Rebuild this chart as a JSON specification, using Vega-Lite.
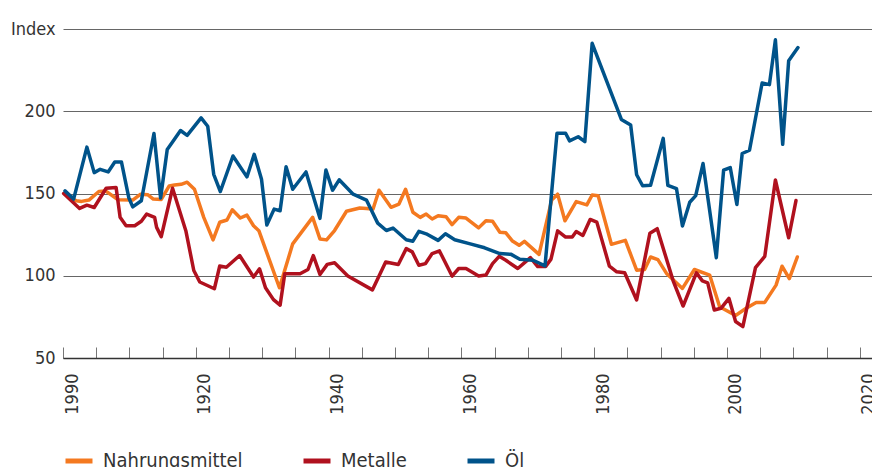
{
  "$schema": "https://vega.github.io/schema/vega-lite/v6.json",
  "width": 809,
  "height": 329,
  "autosize": {"type": "none"},
  "padding": {"left": 63, "top": 29, "right": 0, "bottom": 109},
  "background": "white",
  "config": {"view": {"stroke": null}, "font": "DejaVu Sans Condensed"},
  "data": {"values": [
    {"Reihe":"Nahrungsmittel","Jahr":1900.3,"Wert":149.6},
    {"Reihe":"Nahrungsmittel","Jahr":1902.0,"Wert":145.6},
    {"Reihe":"Nahrungsmittel","Jahr":1902.8,"Wert":145.2},
    {"Reihe":"Nahrungsmittel","Jahr":1903.9,"Wert":146.0},
    {"Reihe":"Nahrungsmittel","Jahr":1905.4,"Wert":151.2},
    {"Reihe":"Nahrungsmittel","Jahr":1906.4,"Wert":151.6},
    {"Reihe":"Nahrungsmittel","Jahr":1908.3,"Wert":146.2},
    {"Reihe":"Nahrungsmittel","Jahr":1910.5,"Wert":146.0},
    {"Reihe":"Nahrungsmittel","Jahr":1911.7,"Wert":149.6},
    {"Reihe":"Nahrungsmittel","Jahr":1912.8,"Wert":149.2},
    {"Reihe":"Nahrungsmittel","Jahr":1913.6,"Wert":146.6},
    {"Reihe":"Nahrungsmittel","Jahr":1914.8,"Wert":146.4},
    {"Reihe":"Nahrungsmittel","Jahr":1916.0,"Wert":154.6},
    {"Reihe":"Nahrungsmittel","Jahr":1916.8,"Wert":155.2},
    {"Reihe":"Nahrungsmittel","Jahr":1917.8,"Wert":155.6},
    {"Reihe":"Nahrungsmittel","Jahr":1918.7,"Wert":156.9},
    {"Reihe":"Nahrungsmittel","Jahr":1919.8,"Wert":152.6},
    {"Reihe":"Nahrungsmittel","Jahr":1921.2,"Wert":135.5},
    {"Reihe":"Nahrungsmittel","Jahr":1922.6,"Wert":121.8},
    {"Reihe":"Nahrungsmittel","Jahr":1923.6,"Wert":132.5},
    {"Reihe":"Nahrungsmittel","Jahr":1924.7,"Wert":133.9},
    {"Reihe":"Nahrungsmittel","Jahr":1925.5,"Wert":140.1},
    {"Reihe":"Nahrungsmittel","Jahr":1926.7,"Wert":135.1},
    {"Reihe":"Nahrungsmittel","Jahr":1927.7,"Wert":136.9},
    {"Reihe":"Nahrungsmittel","Jahr":1928.7,"Wert":130.4},
    {"Reihe":"Nahrungsmittel","Jahr":1929.5,"Wert":127.4},
    {"Reihe":"Nahrungsmittel","Jahr":1932.6,"Wert":92.7},
    {"Reihe":"Nahrungsmittel","Jahr":1934.6,"Wert":119.4},
    {"Reihe":"Nahrungsmittel","Jahr":1937.6,"Wert":135.5},
    {"Reihe":"Nahrungsmittel","Jahr":1938.7,"Wert":122.4},
    {"Reihe":"Nahrungsmittel","Jahr":1939.7,"Wert":121.8},
    {"Reihe":"Nahrungsmittel","Jahr":1940.9,"Wert":127.5},
    {"Reihe":"Nahrungsmittel","Jahr":1942.7,"Wert":139.2},
    {"Reihe":"Nahrungsmittel","Jahr":1944.7,"Wert":141.2},
    {"Reihe":"Nahrungsmittel","Jahr":1946.7,"Wert":140.6},
    {"Reihe":"Nahrungsmittel","Jahr":1947.6,"Wert":152.0},
    {"Reihe":"Nahrungsmittel","Jahr":1949.4,"Wert":141.6},
    {"Reihe":"Nahrungsmittel","Jahr":1950.6,"Wert":143.6},
    {"Reihe":"Nahrungsmittel","Jahr":1951.6,"Wert":152.6},
    {"Reihe":"Nahrungsmittel","Jahr":1952.7,"Wert":138.6},
    {"Reihe":"Nahrungsmittel","Jahr":1953.8,"Wert":135.5},
    {"Reihe":"Nahrungsmittel","Jahr":1954.7,"Wert":137.5},
    {"Reihe":"Nahrungsmittel","Jahr":1955.6,"Wert":134.5},
    {"Reihe":"Nahrungsmittel","Jahr":1956.5,"Wert":136.5},
    {"Reihe":"Nahrungsmittel","Jahr":1957.7,"Wert":135.9},
    {"Reihe":"Nahrungsmittel","Jahr":1958.6,"Wert":131.1},
    {"Reihe":"Nahrungsmittel","Jahr":1959.6,"Wert":135.5},
    {"Reihe":"Nahrungsmittel","Jahr":1960.7,"Wert":135.1},
    {"Reihe":"Nahrungsmittel","Jahr":1962.6,"Wert":129.1},
    {"Reihe":"Nahrungsmittel","Jahr":1963.7,"Wert":133.5},
    {"Reihe":"Nahrungsmittel","Jahr":1964.7,"Wert":133.1},
    {"Reihe":"Nahrungsmittel","Jahr":1965.8,"Wert":126.5},
    {"Reihe":"Nahrungsmittel","Jahr":1966.7,"Wert":126.1},
    {"Reihe":"Nahrungsmittel","Jahr":1967.7,"Wert":121.1},
    {"Reihe":"Nahrungsmittel","Jahr":1968.7,"Wert":118.5},
    {"Reihe":"Nahrungsmittel","Jahr":1969.5,"Wert":120.9},
    {"Reihe":"Nahrungsmittel","Jahr":1971.7,"Wert":113.0},
    {"Reihe":"Nahrungsmittel","Jahr":1973.6,"Wert":146.0},
    {"Reihe":"Nahrungsmittel","Jahr":1974.5,"Wert":149.6},
    {"Reihe":"Nahrungsmittel","Jahr":1975.6,"Wert":133.4},
    {"Reihe":"Nahrungsmittel","Jahr":1977.3,"Wert":145.1},
    {"Reihe":"Nahrungsmittel","Jahr":1978.9,"Wert":143.1},
    {"Reihe":"Nahrungsmittel","Jahr":1979.7,"Wert":149.1},
    {"Reihe":"Nahrungsmittel","Jahr":1980.6,"Wert":148.7},
    {"Reihe":"Nahrungsmittel","Jahr":1982.6,"Wert":119.1},
    {"Reihe":"Nahrungsmittel","Jahr":1984.7,"Wert":121.5},
    {"Reihe":"Nahrungsmittel","Jahr":1986.4,"Wert":103.4},
    {"Reihe":"Nahrungsmittel","Jahr":1987.6,"Wert":103.8},
    {"Reihe":"Nahrungsmittel","Jahr":1988.5,"Wert":111.4},
    {"Reihe":"Nahrungsmittel","Jahr":1989.6,"Wert":109.8},
    {"Reihe":"Nahrungsmittel","Jahr":1990.9,"Wert":101.4},
    {"Reihe":"Nahrungsmittel","Jahr":1993.3,"Wert":92.3},
    {"Reihe":"Nahrungsmittel","Jahr":1995.1,"Wert":103.8},
    {"Reihe":"Nahrungsmittel","Jahr":1997.4,"Wert":100.4},
    {"Reihe":"Nahrungsmittel","Jahr":1998.9,"Wert":81.2},
    {"Reihe":"Nahrungsmittel","Jahr":2001.3,"Wert":75.8},
    {"Reihe":"Nahrungsmittel","Jahr":2002.9,"Wert":80.2},
    {"Reihe":"Nahrungsmittel","Jahr":2004.4,"Wert":83.8},
    {"Reihe":"Nahrungsmittel","Jahr":2005.7,"Wert":83.8},
    {"Reihe":"Nahrungsmittel","Jahr":2007.4,"Wert":94.3},
    {"Reihe":"Nahrungsmittel","Jahr":2008.3,"Wert":105.8},
    {"Reihe":"Nahrungsmittel","Jahr":2009.4,"Wert":98.3},
    {"Reihe":"Nahrungsmittel","Jahr":2010.6,"Wert":111.4},

    {"Reihe":"Metalle","Jahr":1900.1,"Wert":150.0},
    {"Reihe":"Metalle","Jahr":1902.5,"Wert":140.9},
    {"Reihe":"Metalle","Jahr":1903.6,"Wert":142.9},
    {"Reihe":"Metalle","Jahr":1904.7,"Wert":141.5},
    {"Reihe":"Metalle","Jahr":1906.5,"Wert":153.2},
    {"Reihe":"Metalle","Jahr":1908.0,"Wert":153.6},
    {"Reihe":"Metalle","Jahr":1908.6,"Wert":135.5},
    {"Reihe":"Metalle","Jahr":1909.5,"Wert":130.4},
    {"Reihe":"Metalle","Jahr":1910.8,"Wert":130.4},
    {"Reihe":"Metalle","Jahr":1911.8,"Wert":133.1},
    {"Reihe":"Metalle","Jahr":1912.6,"Wert":137.5},
    {"Reihe":"Metalle","Jahr":1913.8,"Wert":135.5},
    {"Reihe":"Metalle","Jahr":1914.1,"Wert":129.4},
    {"Reihe":"Metalle","Jahr":1914.8,"Wert":123.8},
    {"Reihe":"Metalle","Jahr":1916.5,"Wert":153.2},
    {"Reihe":"Metalle","Jahr":1918.5,"Wert":127.4},
    {"Reihe":"Metalle","Jahr":1919.7,"Wert":103.2},
    {"Reihe":"Metalle","Jahr":1920.6,"Wert":96.2},
    {"Reihe":"Metalle","Jahr":1922.8,"Wert":92.1},
    {"Reihe":"Metalle","Jahr":1923.6,"Wert":105.9},
    {"Reihe":"Metalle","Jahr":1924.6,"Wert":105.2},
    {"Reihe":"Metalle","Jahr":1926.6,"Wert":112.3},
    {"Reihe":"Metalle","Jahr":1928.7,"Wert":99.2},
    {"Reihe":"Metalle","Jahr":1929.6,"Wert":104.2},
    {"Reihe":"Metalle","Jahr":1930.5,"Wert":92.7},
    {"Reihe":"Metalle","Jahr":1931.7,"Wert":85.5},
    {"Reihe":"Metalle","Jahr":1932.7,"Wert":82.1},
    {"Reihe":"Metalle","Jahr":1933.4,"Wert":101.2},
    {"Reihe":"Metalle","Jahr":1934.5,"Wert":101.2},
    {"Reihe":"Metalle","Jahr":1935.7,"Wert":101.2},
    {"Reihe":"Metalle","Jahr":1936.9,"Wert":103.8},
    {"Reihe":"Metalle","Jahr":1937.7,"Wert":112.3},
    {"Reihe":"Metalle","Jahr":1938.7,"Wert":100.8},
    {"Reihe":"Metalle","Jahr":1939.8,"Wert":106.9},
    {"Reihe":"Metalle","Jahr":1940.9,"Wert":107.9},
    {"Reihe":"Metalle","Jahr":1942.9,"Wert":99.8},
    {"Reihe":"Metalle","Jahr":1946.6,"Wert":91.4},
    {"Reihe":"Metalle","Jahr":1948.6,"Wert":108.4},
    {"Reihe":"Metalle","Jahr":1950.5,"Wert":106.8},
    {"Reihe":"Metalle","Jahr":1951.7,"Wert":116.5},
    {"Reihe":"Metalle","Jahr":1952.6,"Wert":114.5},
    {"Reihe":"Metalle","Jahr":1953.6,"Wert":106.4},
    {"Reihe":"Metalle","Jahr":1954.6,"Wert":107.4},
    {"Reihe":"Metalle","Jahr":1955.6,"Wert":113.5},
    {"Reihe":"Metalle","Jahr":1956.7,"Wert":115.1},
    {"Reihe":"Metalle","Jahr":1958.6,"Wert":99.8},
    {"Reihe":"Metalle","Jahr":1959.6,"Wert":104.4},
    {"Reihe":"Metalle","Jahr":1960.7,"Wert":104.4},
    {"Reihe":"Metalle","Jahr":1962.6,"Wert":99.8},
    {"Reihe":"Metalle","Jahr":1963.7,"Wert":100.4},
    {"Reihe":"Metalle","Jahr":1964.7,"Wert":107.4},
    {"Reihe":"Metalle","Jahr":1965.7,"Wert":111.8},
    {"Reihe":"Metalle","Jahr":1966.7,"Wert":109.4},
    {"Reihe":"Metalle","Jahr":1968.5,"Wert":104.4},
    {"Reihe":"Metalle","Jahr":1970.4,"Wert":111.0},
    {"Reihe":"Metalle","Jahr":1971.5,"Wert":105.6},
    {"Reihe":"Metalle","Jahr":1972.7,"Wert":105.6},
    {"Reihe":"Metalle","Jahr":1973.5,"Wert":110.1},
    {"Reihe":"Metalle","Jahr":1974.5,"Wert":127.3},
    {"Reihe":"Metalle","Jahr":1975.7,"Wert":123.5},
    {"Reihe":"Metalle","Jahr":1976.7,"Wert":123.5},
    {"Reihe":"Metalle","Jahr":1977.3,"Wert":126.9},
    {"Reihe":"Metalle","Jahr":1978.3,"Wert":124.5},
    {"Reihe":"Metalle","Jahr":1979.4,"Wert":134.2},
    {"Reihe":"Metalle","Jahr":1980.4,"Wert":132.6},
    {"Reihe":"Metalle","Jahr":1982.3,"Wert":105.8},
    {"Reihe":"Metalle","Jahr":1983.4,"Wert":102.4},
    {"Reihe":"Metalle","Jahr":1984.6,"Wert":101.8},
    {"Reihe":"Metalle","Jahr":1986.4,"Wert":85.3},
    {"Reihe":"Metalle","Jahr":1988.4,"Wert":125.9},
    {"Reihe":"Metalle","Jahr":1989.5,"Wert":128.6},
    {"Reihe":"Metalle","Jahr":1991.9,"Wert":96.9},
    {"Reihe":"Metalle","Jahr":1993.4,"Wert":81.6},
    {"Reihe":"Metalle","Jahr":1995.4,"Wert":101.8},
    {"Reihe":"Metalle","Jahr":1996.3,"Wert":96.9},
    {"Reihe":"Metalle","Jahr":1997.1,"Wert":95.7},
    {"Reihe":"Metalle","Jahr":1998.1,"Wert":79.2},
    {"Reihe":"Metalle","Jahr":1999.1,"Wert":80.2},
    {"Reihe":"Metalle","Jahr":2000.3,"Wert":86.3},
    {"Reihe":"Metalle","Jahr":2001.3,"Wert":72.2},
    {"Reihe":"Metalle","Jahr":2002.4,"Wert":69.1},
    {"Reihe":"Metalle","Jahr":2004.3,"Wert":105.0},
    {"Reihe":"Metalle","Jahr":2005.7,"Wert":111.8},
    {"Reihe":"Metalle","Jahr":2007.3,"Wert":158.2},
    {"Reihe":"Metalle","Jahr":2009.3,"Wert":123.1},
    {"Reihe":"Metalle","Jahr":2010.4,"Wert":145.7},

    {"Reihe":"Öl","Jahr":1900.3,"Wert":151.6},
    {"Reihe":"Öl","Jahr":1901.6,"Wert":146.6},
    {"Reihe":"Öl","Jahr":1903.6,"Wert":178.2},
    {"Reihe":"Öl","Jahr":1904.7,"Wert":162.7},
    {"Reihe":"Öl","Jahr":1905.6,"Wert":164.7},
    {"Reihe":"Öl","Jahr":1906.8,"Wert":163.1},
    {"Reihe":"Öl","Jahr":1907.8,"Wert":169.2},
    {"Reihe":"Öl","Jahr":1908.8,"Wert":169.2},
    {"Reihe":"Öl","Jahr":1909.9,"Wert":147.6},
    {"Reihe":"Öl","Jahr":1910.5,"Wert":141.9},
    {"Reihe":"Öl","Jahr":1911.8,"Wert":145.6},
    {"Reihe":"Öl","Jahr":1913.7,"Wert":186.5},
    {"Reihe":"Öl","Jahr":1914.7,"Wert":147.2},
    {"Reihe":"Öl","Jahr":1915.7,"Wert":176.8},
    {"Reihe":"Öl","Jahr":1916.6,"Wert":181.9},
    {"Reihe":"Öl","Jahr":1917.7,"Wert":188.3},
    {"Reihe":"Öl","Jahr":1918.7,"Wert":185.3},
    {"Reihe":"Öl","Jahr":1920.8,"Wert":196.0},
    {"Reihe":"Öl","Jahr":1921.8,"Wert":190.9},
    {"Reihe":"Öl","Jahr":1922.7,"Wert":161.7},
    {"Reihe":"Öl","Jahr":1923.7,"Wert":151.2},
    {"Reihe":"Öl","Jahr":1925.6,"Wert":172.8},
    {"Reihe":"Öl","Jahr":1927.7,"Wert":160.1},
    {"Reihe":"Öl","Jahr":1928.8,"Wert":173.8},
    {"Reihe":"Öl","Jahr":1929.9,"Wert":158.7},
    {"Reihe":"Öl","Jahr":1930.7,"Wert":130.8},
    {"Reihe":"Öl","Jahr":1931.8,"Wert":140.5},
    {"Reihe":"Öl","Jahr":1932.7,"Wert":139.5},
    {"Reihe":"Öl","Jahr":1933.6,"Wert":166.3},
    {"Reihe":"Öl","Jahr":1934.6,"Wert":152.6},
    {"Reihe":"Öl","Jahr":1936.6,"Wert":163.1},
    {"Reihe":"Öl","Jahr":1938.7,"Wert":134.9},
    {"Reihe":"Öl","Jahr":1939.6,"Wert":164.3},
    {"Reihe":"Öl","Jahr":1940.6,"Wert":152.0},
    {"Reihe":"Öl","Jahr":1941.6,"Wert":158.3},
    {"Reihe":"Öl","Jahr":1943.7,"Wert":149.6},
    {"Reihe":"Öl","Jahr":1945.7,"Wert":146.0},
    {"Reihe":"Öl","Jahr":1947.4,"Wert":132.0},
    {"Reihe":"Öl","Jahr":1948.7,"Wert":127.5},
    {"Reihe":"Öl","Jahr":1949.7,"Wert":129.0},
    {"Reihe":"Öl","Jahr":1951.7,"Wert":121.9},
    {"Reihe":"Öl","Jahr":1952.7,"Wert":121.0},
    {"Reihe":"Öl","Jahr":1953.6,"Wert":127.0},
    {"Reihe":"Öl","Jahr":1954.7,"Wert":125.5},
    {"Reihe":"Öl","Jahr":1956.5,"Wert":121.5},
    {"Reihe":"Öl","Jahr":1957.6,"Wert":125.5},
    {"Reihe":"Öl","Jahr":1959.0,"Wert":121.9},
    {"Reihe":"Öl","Jahr":1961.2,"Wert":119.5},
    {"Reihe":"Öl","Jahr":1963.5,"Wert":117.0},
    {"Reihe":"Öl","Jahr":1965.8,"Wert":113.5},
    {"Reihe":"Öl","Jahr":1967.5,"Wert":113.0},
    {"Reihe":"Öl","Jahr":1968.8,"Wert":110.0},
    {"Reihe":"Öl","Jahr":1970.8,"Wert":109.4},
    {"Reihe":"Öl","Jahr":1972.6,"Wert":106.0},
    {"Reihe":"Öl","Jahr":1974.4,"Wert":186.6},
    {"Reihe":"Öl","Jahr":1975.7,"Wert":186.6},
    {"Reihe":"Öl","Jahr":1976.3,"Wert":182.0},
    {"Reihe":"Öl","Jahr":1977.6,"Wert":184.5},
    {"Reihe":"Öl","Jahr":1978.6,"Wert":181.5},
    {"Reihe":"Öl","Jahr":1979.7,"Wert":241.3},
    {"Reihe":"Öl","Jahr":1984.1,"Wert":195.0},
    {"Reihe":"Öl","Jahr":1985.5,"Wert":191.6},
    {"Reihe":"Öl","Jahr":1986.4,"Wert":161.4},
    {"Reihe":"Öl","Jahr":1987.3,"Wert":154.7},
    {"Reihe":"Öl","Jahr":1988.5,"Wert":155.0},
    {"Reihe":"Öl","Jahr":1990.4,"Wert":183.5},
    {"Reihe":"Öl","Jahr":1991.1,"Wert":155.0},
    {"Reihe":"Öl","Jahr":1992.4,"Wert":153.0},
    {"Reihe":"Öl","Jahr":1993.3,"Wert":130.2},
    {"Reihe":"Öl","Jahr":1994.4,"Wert":144.7},
    {"Reihe":"Öl","Jahr":1995.3,"Wert":148.7},
    {"Reihe":"Öl","Jahr":1996.4,"Wert":168.2},
    {"Reihe":"Öl","Jahr":1998.4,"Wert":111.0},
    {"Reihe":"Öl","Jahr":1999.5,"Wert":164.2},
    {"Reihe":"Öl","Jahr":2000.5,"Wert":165.8},
    {"Reihe":"Öl","Jahr":2001.5,"Wert":143.3},
    {"Reihe":"Öl","Jahr":2002.3,"Wert":174.3},
    {"Reihe":"Öl","Jahr":2003.4,"Wert":176.3},
    {"Reihe":"Öl","Jahr":2005.3,"Wert":217.2},
    {"Reihe":"Öl","Jahr":2006.4,"Wert":216.2},
    {"Reihe":"Öl","Jahr":2007.3,"Wert":243.4},
    {"Reihe":"Öl","Jahr":2008.4,"Wert":179.9},
    {"Reihe":"Öl","Jahr":2009.3,"Wert":230.7},
    {"Reihe":"Öl","Jahr":2010.7,"Wert":238.7}
  ]},
  "mark": {"type": "line", "strokeWidth": 3.5, "strokeJoin": "round", "strokeCap": "round"},
  "encoding": {
    "x": {
      "field": "Jahr", "type": "quantitative",
      "scale": {"domain": [1900, 2021.85], "nice": false, "zero": false},
      "axis": {
        "title": null,
        "values": [1900,1905,1910,1915,1920,1925,1930,1935,1940,1945,1950,1955,1960,1965,1970,1975,1980,1985,1990,1995,2000,2005,2010,2015,2020],
        "format": "d",
        "labelExpr": "datum.value % 20 == 0 ? (datum.value == 1900 ? '1990' : datum.label) : ''",
        "labelAngle": -90,
        "labelOffset": 9,
        "labelFlush": false,
        "labelOverlap": false,
        "labelBound": false,
        "tickSize": -11,
        "labelPadding": 26,
        "grid": false,
        "domainColor": "#333333",
        "domainWidth": 1.5,
        "tickColor": "#777777",
        "tickWidth": 1,
        "labelFont": "DejaVu Sans Condensed",
        "labelFontSize": 18,
        "labelColor": "#333333"
      }
    },
    "y": {
      "field": "Wert", "type": "quantitative",
      "scale": {"domain": [50, 250], "nice": false, "zero": false},
      "axis": {
        "title": null,
        "values": [50, 100, 150, 200, 250],
        "labelExpr": "datum.value == 250 ? 'Index' : datum.label",
        "domain": false,
        "ticks": false,
        "grid": true,
        "gridColor": "#666666",
        "gridWidth": 1,
        "labelPadding": 8,
        "labelFlush": false,
        "labelFont": "DejaVu Sans Condensed",
        "labelFontSize": 18,
        "labelColor": "#333333"
      }
    },
    "color": {
      "field": "Reihe", "type": "nominal",
      "scale": {"domain": ["Nahrungsmittel", "Metalle", "Öl"], "range": ["#F47920", "#B0111E", "#00538A"]},
      "legend": {
        "title": null,
        "orient": "bottom",
        "direction": "horizontal",
        "symbolType": "stroke",
        "symbolStrokeWidth": 5,
        "symbolSize": 729,
        "labelFont": "DejaVu Sans Condensed",
        "labelFontSize": 20,
        "labelColor": "#333333",
        "labelOffset": 8,
        "columnPadding": 50,
        "offset": 30
      }
    }
  }
}
